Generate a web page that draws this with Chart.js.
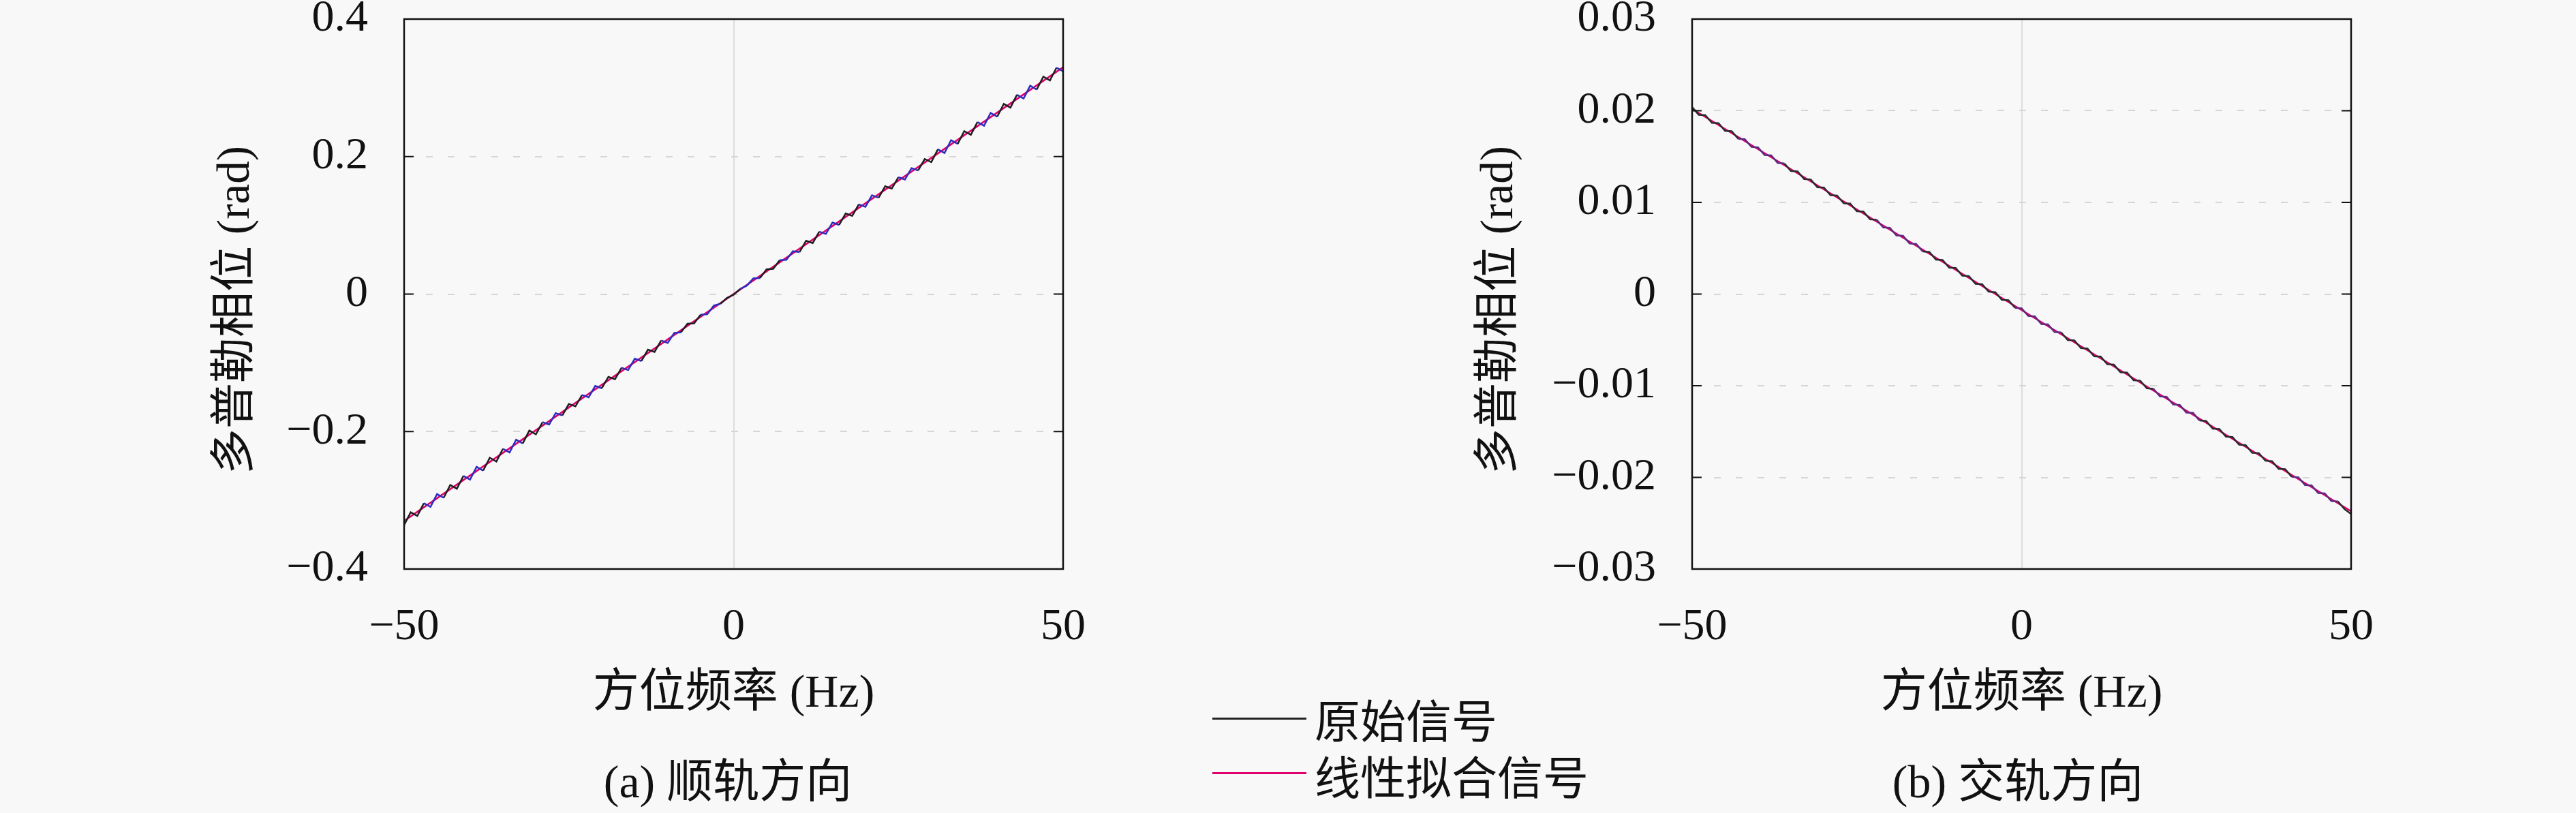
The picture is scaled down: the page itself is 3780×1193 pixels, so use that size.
<!DOCTYPE html>
<html>
<head>
<meta charset="utf-8">
<script src="https://cdn.jsdelivr.net/npm/chart.js@4.4.1/dist/chart.umd.min.js"></script>
<style>
  html, body { margin: 0; padding: 0; }
  body { width: 3780px; height: 1193px; background: #f8f8f8; position: relative; overflow: hidden;
         font-family: "Liberation Serif", "Noto Sans CJK SC", serif; color: #111; }
  .plot { position: absolute; top: -80px; }
  .cap { position: absolute; font-size: 68px; transform: translate(-50%, -50%); white-space: nowrap; }
  .key { position: absolute; left: 1779px; width: 138px; height: 3px; }
  .keytxt { position: absolute; left: 1929px; font-size: 67px; transform: translateY(-50%);
            font-family: "Noto Sans CJK SC", sans-serif; white-space: nowrap; }
</style>
</head>
<body>
<canvas id="along" class="plot" width="1700" height="1273" style="left:0px"></canvas>
<canvas id="cross" class="plot" width="1700" height="1273" style="left:1890px"></canvas>

<div class="key" style="top:1053px; background:#222"></div>
<div class="keytxt" style="top:1053px">原始信号</div>
<div class="key" style="top:1133px; background:#e0006e"></div>
<div class="keytxt" style="top:1136px">线性拟合信号</div>

<div class="cap" style="left:1068px; top:1140px">(a) 顺轨方向</div>
<div class="cap" style="left:2961px; top:1140px">(b) 交轨方向</div>

<script>
// azimuth frequency (Hz)
const freqs = [-50,-49,-48,-47,-46,-45,-44,-43,-42,-41,-40,-39,-38,-37,-36,-35,-34,-33,-32,-31,
  -30,-29,-28,-27,-26,-25,-24,-23,-22,-21,-20,-19,-18,-17,-16,-15,-14,-13,-12,-11,
  -10,-9,-8,-7,-6,-5,-4,-3,-2,-1,0,1,2,3,4,5,6,7,8,9,10,
  11,12,13,14,15,16,17,18,19,20,21,22,23,24,25,26,27,28,29,30,
  31,32,33,34,35,36,37,38,39,40,41,42,43,44,45,46,47,48,49,50];
const fitFreqs = [-50, 50];

// (a) along-track doppler phase (rad)
const alongOriginal = [
  -0.336, -0.3174, -0.3228, -0.3042, -0.3096, -0.291, -0.2964, -0.2778, -0.2832, -0.2646,
  -0.270, -0.2514, -0.2568, -0.2382, -0.2436, -0.225, -0.2304, -0.2118, -0.2172, -0.1986,
  -0.204, -0.1864, -0.1898, -0.1732, -0.1766, -0.160, -0.1634, -0.1468, -0.1502, -0.1336,
  -0.137, -0.1204, -0.1238, -0.1072, -0.1106, -0.094, -0.0974, -0.0808, -0.0842, -0.0676,
  -0.071, -0.0564, -0.0558, -0.0432, -0.0426, -0.030, -0.0294, -0.0168, -0.0142, -0.0056,
  -0.001,
  0.0076, 0.0122, 0.0228, 0.0234, 0.036, 0.0366, 0.0492, 0.0498, 0.0624, 0.061,
  0.0776, 0.0742, 0.0908, 0.0874, 0.104, 0.1006, 0.1172, 0.1138, 0.1304, 0.127,
  0.1436, 0.1402, 0.1568, 0.1534, 0.170, 0.1666, 0.1832, 0.1798, 0.1964, 0.192,
  0.2106, 0.2052, 0.2238, 0.2184, 0.237, 0.2316, 0.2502, 0.2448, 0.2634, 0.258,
  0.2766, 0.2712, 0.2898, 0.2844, 0.303, 0.2976, 0.3162, 0.3108, 0.3294, 0.324];
const alongFit = [-0.33, 0.33];

// (b) cross-track doppler phase (rad)
const crossOriginal = [
  0.0204, 0.01956, 0.01952, 0.01868, 0.01864, 0.01781, 0.01777, 0.01693, 0.01689, 0.01605,
  0.01601, 0.01517, 0.01513, 0.01429, 0.01425, 0.01342, 0.01338, 0.01254, 0.0125, 0.01166,
  0.01162, 0.01078, 0.01074, 0.0099, 0.00986, 0.00903, 0.00899, 0.00815, 0.00811, 0.00727,
  0.00723, 0.00639, 0.00635, 0.00551, 0.00547, 0.00464, 0.0046, 0.00376, 0.00372, 0.00288,
  0.00284, 0.002, 0.00196, 0.00112, 0.00108, 0.00025, 0.00021, -0.00063, -0.00067, -0.00151,
  -0.00155,
  -0.00239, -0.00243, -0.00327, -0.00331, -0.00415, -0.00418, -0.00502, -0.00506, -0.0059, -0.00594,
  -0.00678, -0.00682, -0.00766, -0.0077, -0.00854, -0.00857, -0.00941, -0.00945, -0.01029, -0.01033,
  -0.01117, -0.01121, -0.01205, -0.01209, -0.01293, -0.01296, -0.0138, -0.01384, -0.01468, -0.01472,
  -0.01556, -0.0156, -0.01644, -0.01648, -0.01732, -0.01735, -0.01819, -0.01823, -0.01907, -0.01911,
  -0.01995, -0.01999, -0.02083, -0.02087, -0.02171, -0.02174, -0.02258, -0.02262, -0.02346, -0.0240];
const crossFit = [0.0202, -0.0237];

// tick labels
const xTicks = [-50, 0, 50];
const alongTicks = [-0.4, -0.2, 0, 0.2, 0.4];
const crossTicks = [-0.03, -0.02, -0.01, 0, 0.01, 0.02, 0.03];

const FAMILY = '"Liberation Serif", "Noto Sans CJK SC", serif';
Chart.defaults.font.family = FAMILY;
Chart.defaults.color = '#111';

function fmt(v, d) {
  if (Math.abs(v) < 1e-9) return '0';
  return v.toFixed(d).replace('-', '\u2212');
}

// black box round the plot and short inward ticks on both sides
const framePlugin = {
  id: 'frame',
  afterDatasetsDraw(chart) {
    const { ctx, chartArea: a, scales } = chart;
    ctx.save();
    ctx.strokeStyle = '#111';
    ctx.lineWidth = 2;
    scales.y.ticks.forEach(t => {
      const py = scales.y.getPixelForValue(t.value);
      ctx.beginPath();
      ctx.moveTo(a.left, py); ctx.lineTo(a.left + 14, py);
      ctx.moveTo(a.right - 14, py); ctx.lineTo(a.right, py);
      ctx.stroke();
    });
    ctx.lineWidth = 2.5;
    ctx.strokeRect(a.left, a.top, a.right - a.left, a.bottom - a.top);
    ctx.restore();
  }
};

function makeChart(id, original, fit, yTicks, decimals, titlePad, segColor) {
  const pts = (xs, ys) => xs.map((x, i) => ({ x: x, y: ys[i] }));
  return new Chart(document.getElementById(id), {
    type: 'line',
    data: {
      datasets: [
        {
          label: '原始信号',
          data: pts(freqs, original),
          borderColor: '#1e1e1e',
          borderWidth: 2.5,
          segment: { borderColor: segColor },
          pointRadius: 0,
          tension: 0,
          order: 1
        },
        {
          label: '线性拟合信号',
          data: pts(fitFreqs, fit),
          borderColor: '#e0006e',
          borderWidth: 2.5,
          pointRadius: 0,
          tension: 0,
          order: 2
        }
      ]
    },
    options: {
      responsive: false,
      animation: false,
      devicePixelRatio: 1,
      layout: { padding: { left: 0, top: 108, right: 140, bottom: 133 } },
      plugins: { legend: { display: false }, tooltip: { enabled: false } },
      scales: {
        x: {
          type: 'linear',
          min: -50, max: 50,
          afterBuildTicks: s => { s.ticks = xTicks.map(v => ({ value: v })); },
          afterFit: s => { s.height = 225; },
          grid: { color: '#dcdcdc', lineWidth: 2, drawTicks: false },
          border: { display: false },
          ticks: { padding: 46, maxRotation: 0, font: { size: 66, lineHeight: 1.2 },
                   callback: v => fmt(v, 0) },
          title: { display: true, text: '方位频率 (Hz)', font: { size: 68, lineHeight: 1.2 },
                   padding: { top: 0, bottom: 0 } }
        },
        y: {
          type: 'linear',
          min: yTicks[0], max: yTicks[yTicks.length - 1],
          afterBuildTicks: s => { s.ticks = yTicks.map(v => ({ value: v })); },
          afterFit: s => { s.width = 593; },
          grid: { color: '#d6d6d6', lineWidth: 2, drawTicks: false },
          border: { display: false, dash: [10, 22] },
          ticks: { padding: 53, font: { size: 66, lineHeight: 1.2 },
                   callback: v => fmt(v, decimals) },
          title: { display: true, text: '多普勒相位 (rad)\u2002\u2009', font: { size: 67, lineHeight: 1.2 },
                   padding: { top: titlePad, bottom: 0 } }
        }
      }
    },
    plugins: [framePlugin]
  });
}

makeChart('along', alongOriginal, alongFit, alongTicks, 1, 307,
  c => (Math.floor(c.p0DataIndex / 3) % 2 ? '#2c2cc0' : '#1e1e1e'));
makeChart('cross', crossOriginal, crossFit, crossTicks, 2, 271,
  c => (Math.floor(c.p0DataIndex / 7) % 3 === 1 ? '#5a2a80' : '#2a2a2a'));
</script>
</body>
</html>
